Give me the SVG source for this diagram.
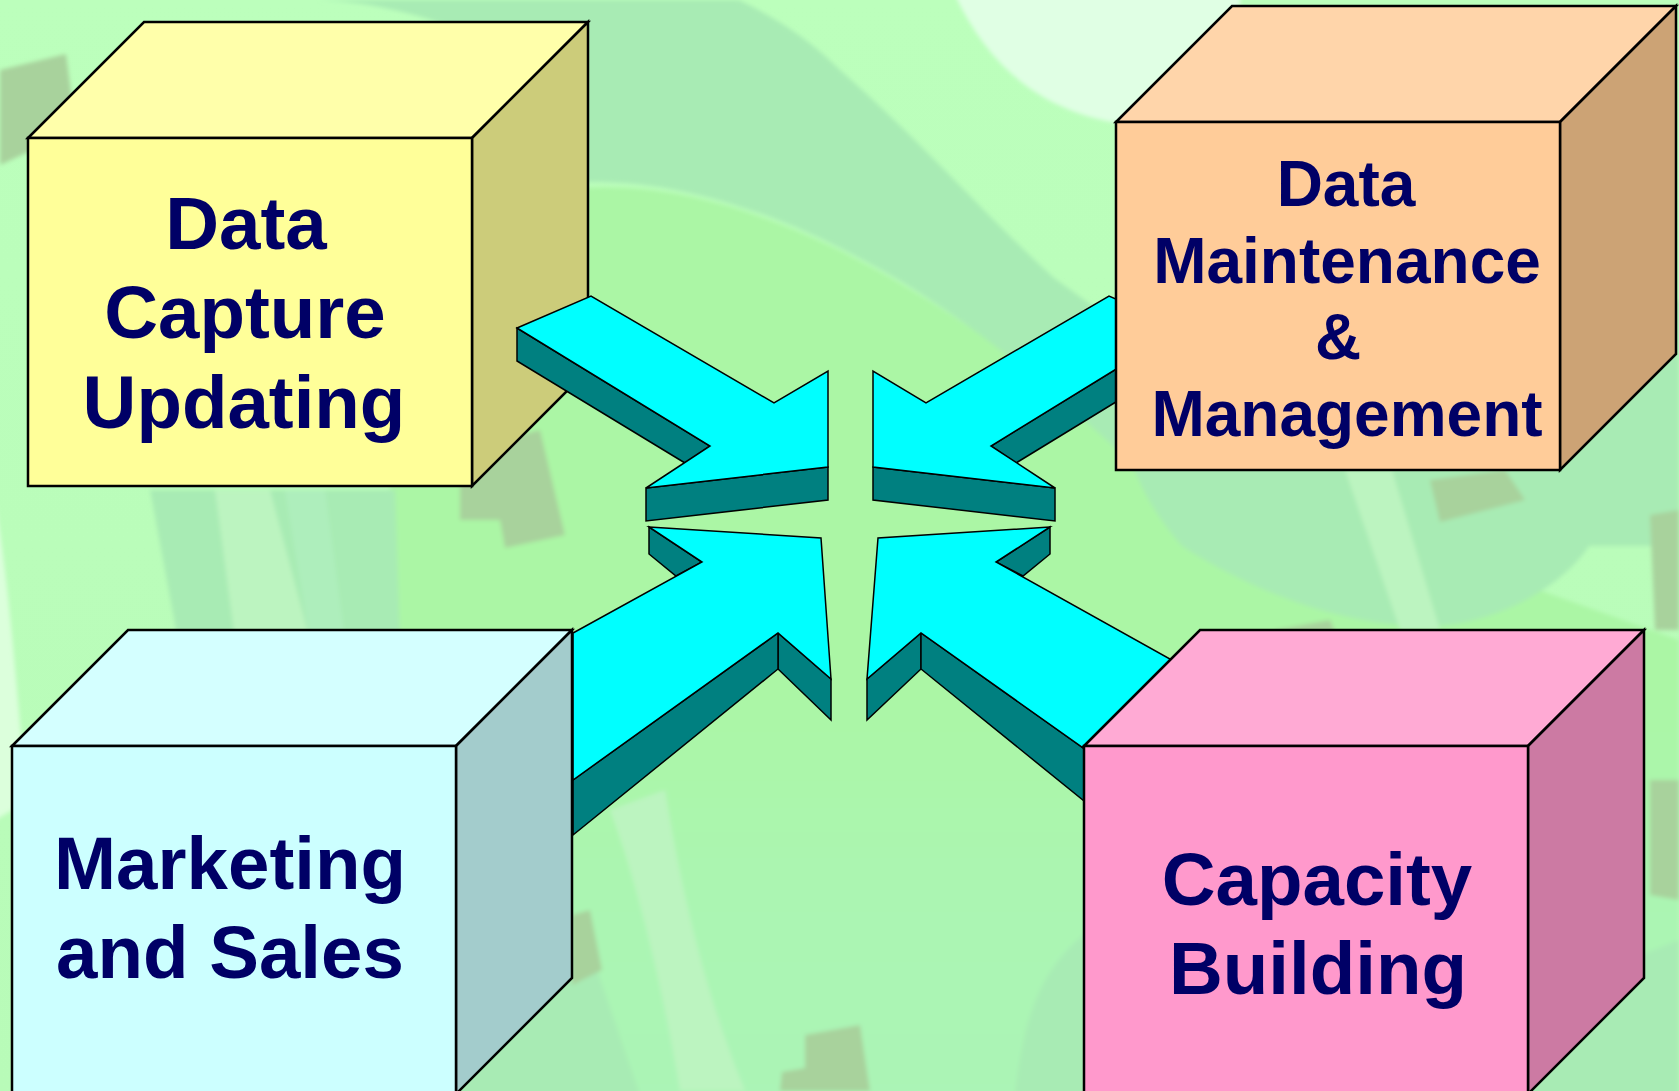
<svg xmlns="http://www.w3.org/2000/svg" width="1679" height="1091" viewBox="0 0 1679 1091">
<defs>
<linearGradient id="bg" x1="0" y1="0" x2="0" y2="1"><stop offset="0" stop-color="#bcffbc"/><stop offset="1" stop-color="#b8fbb8"/></linearGradient>
<linearGradient id="mid" x1="0" y1="0" x2="0" y2="1"><stop offset="0" stop-color="#abf6a5"/><stop offset="0.55" stop-color="#abf6a5"/><stop offset="0.8" stop-color="#abf5b3"/><stop offset="1" stop-color="#abf4b6"/></linearGradient>
<filter id="soft" x="-5%" y="-5%" width="110%" height="110%"><feGaussianBlur stdDeviation="2"/></filter>
</defs>
<style>
.e{stroke:#000;stroke-width:2.5;stroke-linejoin:miter}
.a{stroke:#000;stroke-width:1.5;stroke-linejoin:miter}
.af{fill:#00ffff}.as{fill:#008080}
.t{font-family:"Liberation Sans",Arial,sans-serif;font-weight:bold;fill:#000066;text-anchor:middle}
.big{font-size:74.5px}.mid{font-size:64px}
.dk{fill:#a8ebb4}.lt{fill:#bcf4c0}.br{fill:#a8d29c}
</style>
<g id="background">
<rect width="1679" height="1091" fill="url(#bg)"/>
<g filter="url(#soft)">
<path d="M560 190C720 170 900 260 1120 440L1679 640L1679 1100L390 1100L390 300Z" fill="url(#mid)"/>
<path d="M-5 500C15 620 20 760 30 800L-5 820Z" fill="#dcffdc"/>
<path class="dk" d="M310 0L739 0C780 20 810 40 840 70C920 140 990 220 1054 278L1140 340L1140 470C1040 380 960 310 857 257C780 215 680 180 588 182L500 200L500 60C500 40 400 0 310 0Z"/>
<path d="M955 -5C990 70 1050 122 1150 126L1240 6L1240 -5Z" fill="#e0ffe4"/>
<path class="dk" d="M1120 420L1679 300L1679 546L1589 546C1560 590 1490 626 1428 626C1340 626 1250 590 1182 546C1150 510 1130 470 1120 420Z"/>
<path class="lt" d="M1345 470L1392 470L1440 630L1400 630Z"/>
<path class="br" d="M1430 480L1505 470L1525 500L1440 522Z"/>
<path class="br" d="M1650 515L1679 510L1679 630L1655 630Z"/>
<path class="br" d="M1650 780L1679 780L1679 900L1650 895Z"/>
<path class="br" d="M1275 630L1330 620L1335 632L1275 632Z"/>
<path class="br" d="M0 70L66 54L76 130L0 165Z"/>
<path class="br" d="M460 450L540 430L565 535L505 548L500 520L460 520Z"/>
<path class="dk" d="M150 490L395 490L400 640L178 640Z"/>
<path class="lt" d="M215 490L270 490L310 640L235 640Z"/>
<path d="M285 490L325 490L345 640L310 640Z" fill="#aeeebc"/>
<path class="lt" d="M610 810L665 790C680 880 700 980 745 1091L680 1091C665 1000 640 890 610 810Z"/>
<path class="dk" d="M450 1000L590 950L640 1095L450 1095Z"/>
<path class="br" d="M572 915L590 910L602 970L572 985Z"/>
<path class="br" d="M805 1035L860 1025L870 1091L780 1091L782 1072L805 1068Z"/>
<path class="dk" d="M1015 1095C1025 1000 1050 960 1090 930L1090 1095Z"/>
<path class="dk" d="M1527 1000L1679 940L1679 1095L1527 1095Z"/>
</g>
</g>
<g id="box-data-capture">
<polygon class="e" fill="#ffffaa" points="28,138 144,22 588,22 472,138"/>
<polygon class="e" fill="#cccc7a" points="472,138 588,22 588,370 472,486"/>
<rect class="e" fill="#ffff99" x="28" y="138" width="444" height="348"/>
<text class="t big" x="246" y="249">Data</text>
<text class="t big" x="245" y="338">Capture</text>
<text class="t big" x="244" y="428">Updating</text>
</g>
<g id="connectors">
<g id="arrow-top-left">
<polygon class="a as" points="517,328 517,361 685,463 710,446"/>
<polygon class="a as" points="646,488 646,521 828,500 828,467"/>
<polygon class="a af" points="517,328 591,296 774,403 828,371 828,467 646,488 710,446"/>
</g>
<g id="arrow-top-right">
<polygon class="a as" points="1183,328 1183,361 1016,463 991,446"/>
<polygon class="a as" points="1055,488 1055,521 873,500 873,467"/>
<polygon class="a af" points="1183,328 1109,296 926,403 873,371 873,467 1055,488 991,446"/>
</g>
<g id="arrow-bottom-left">
<polygon class="a as" points="649,527 649,554 676,576 702,562"/>
<polygon class="a as" points="778,633 778,669 831,720 831,679"/>
<polygon class="a as" points="778,633 778,669 573,835 573,780"/>
<polygon class="a af" points="649,527 821,538 831,679 778,633 573,780 573,633 702,562"/>
</g>
<g id="arrow-bottom-right">
<polygon class="a as" points="1050,527 1050,554 1023,576 996,562"/>
<polygon class="a as" points="921,633 921,669 867,720 867,679"/>
<polygon class="a as" points="921,633 921,669 1110,822 1110,767"/>
<polygon class="a af" points="1050,527 878,538 867,679 921,633 1110,767 1200,767 1170,659 996,562"/>
</g>
</g>
<g id="box-data-maintenance">
<polygon class="e" fill="#ffd5aa" points="1116,122 1232,6 1676,6 1560,122"/>
<polygon class="e" fill="#cca375" points="1560,122 1676,6 1676,354 1560,470"/>
<rect class="e" fill="#ffcc99" x="1116" y="122" width="444" height="348"/>
<text class="t mid" x="1346" y="206">Data</text>
<text class="t mid" x="1347" y="283">Maintenance</text>
<text class="t mid" x="1338" y="359">&amp;</text>
<text class="t mid" x="1347" y="436">Management</text>
</g>
<g id="box-marketing">
<polygon class="e" fill="#d4ffff" points="12,746 128,630 572,630 456,746"/>
<polygon class="e" fill="#a3cccc" points="456,746 572,630 572,978 456,1094"/>
<rect class="e" fill="#ccffff" x="12" y="746" width="444" height="348"/>
<text class="t big" x="230" y="889">Marketing</text>
<text class="t big" x="230" y="978">and Sales</text>
</g>
<g id="box-capacity">
<polygon class="e" fill="#ffaad4" points="1084,746 1200,630 1644,630 1528,746"/>
<polygon class="e" fill="#cc7aa3" points="1528,746 1644,630 1644,978 1528,1094"/>
<rect class="e" fill="#ff99cc" x="1084" y="746" width="444" height="348"/>
<text class="t big" x="1317" y="905">Capacity</text>
<text class="t big" x="1318" y="994">Building</text>
</g>
</svg>
